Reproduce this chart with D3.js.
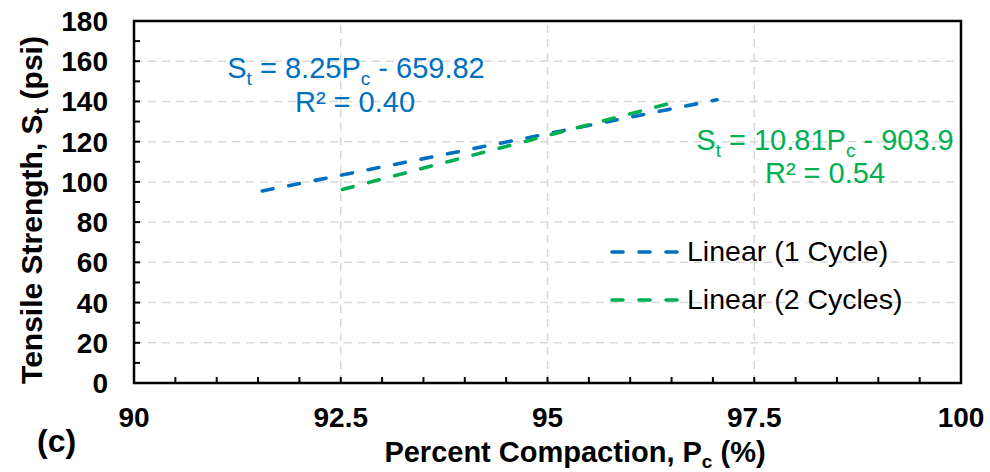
<!DOCTYPE html>
<html>
<head>
<meta charset="utf-8">
<script src="https://cdn.jsdelivr.net/npm/d3@7/dist/d3.min.js"></script>
<style>
  html, body { margin: 0; padding: 0; background: #fff; }
  svg { display: block; }
  text { font-family: "Liberation Sans", Arial, sans-serif; }
</style>
</head>
<body>
<svg id="chart" width="990" height="472"></svg>
<script>
// Linear fits of tensile strength vs. percent compaction
const seriesNames = ["Linear (1 Cycle)", "Linear (2 Cycles)"];
const seriesColors = ["#0070C0", "#00B050"];
const slopes = [8.25, 10.81];
const intercepts = [-659.82, -903.9];
const rSquared = ["0.40", "0.54"];
const xStart = [91.55, 92.52];   // fit range (data extent), %
const xEnd = [97.05, 96.62];

const xTicks = [90, 92.5, 95, 97.5, 100];
const xTickLabels = ["90", "92.5", "95", "97.5", "100"];
const yTicks = [0, 20, 40, 60, 80, 100, 120, 140, 160, 180];

const svg = d3.select("#chart");
const x = d3.scaleLinear().domain([90, 100]).range([134, 961]);
const y = d3.scaleLinear().domain([0, 180]).range([383, 21]);

// gridlines
const grid = svg.append("g").attr("stroke", "#d9d9d9").attr("stroke-width", 1.5)
  .attr("stroke-dasharray", "8 6");
grid.selectAll("line.h").data(yTicks.filter(v => v > 0 && v < 180)).join("line")
  .attr("x1", x(90)).attr("x2", x(100)).attr("y1", d => y(d)).attr("y2", d => y(d));
grid.selectAll("line.v").data(xTicks.filter(v => v > 90 && v < 100)).join("line")
  .attr("y1", y(0)).attr("y2", y(180)).attr("x1", d => x(d)).attr("x2", d => x(d));

// minor ticks, pointing inward
const xMinor = d3.range(90.5, 100, 0.5);
const yMinor = d3.range(10, 180, 10);
const ticks = svg.append("g").attr("stroke", "#000").attr("stroke-width", 2);
ticks.selectAll("line.xm").data(xMinor).join("line")
  .attr("x1", d => x(d)).attr("x2", d => x(d)).attr("y1", y(0)).attr("y2", y(0) - 6);
ticks.selectAll("line.ym").data(yMinor).join("line")
  .attr("y1", d => y(d)).attr("y2", d => y(d)).attr("x1", x(90)).attr("x2", x(90) + 6);

// plot border
svg.append("rect").attr("x", x(90)).attr("y", y(180))
  .attr("width", x(100) - x(90)).attr("height", y(0) - y(180))
  .attr("fill", "none").attr("stroke", "#000").attr("stroke-width", 2.5);

// tick labels
svg.append("g").selectAll("text").data(yTicks).join("text")
  .attr("x", 108).attr("y", d => y(d) + 10)
  .attr("text-anchor", "end").attr("font-size", 28).attr("font-weight", "bold")
  .text(d => d);
svg.append("g").selectAll("text").data(xTicks).join("text")
  .attr("x", d => x(d)).attr("y", 427)
  .attr("text-anchor", "middle").attr("font-size", 28).attr("font-weight", "bold")
  .text((d, i) => xTickLabels[i]);

// trend lines
const line = d3.line().x(d => x(d[0])).y(d => y(d[1]));
seriesNames.forEach((name, i) => {
  const pts = [xStart[i], xEnd[i]].map(v => [v, slopes[i] * v + intercepts[i]]);
  svg.append("path").datum(pts).attr("d", line)
    .attr("fill", "none").attr("stroke", seriesColors[i]).attr("stroke-width", 3.6)
    .attr("stroke-linecap", "round").attr("stroke-dasharray", "11 16");
});

// equation labels
function equation(xc, yc, i) {
  const t = svg.append("text").attr("x", xc).attr("y", yc).attr("text-anchor", "middle")
    .attr("font-size", 29).attr("fill", seriesColors[i]);
  t.append("tspan").text("S");
  t.append("tspan").attr("font-size", 19).attr("dy", 7).text("t");
  t.append("tspan").attr("dy", -7).text(" = " + slopes[i] + "P");
  t.append("tspan").attr("font-size", 19).attr("dy", 7).text("c");
  t.append("tspan").attr("dy", -7).text(" - " + Math.abs(intercepts[i]));
}
equation(356, 78, 0);
svg.append("text").attr("x", 355).attr("y", 112).attr("text-anchor", "middle")
  .attr("font-size", 29).attr("fill", seriesColors[0]).text("R² = " + rSquared[0]);
equation(825, 150, 1);
svg.append("text").attr("x", 825).attr("y", 183).attr("text-anchor", "middle")
  .attr("font-size", 29).attr("fill", seriesColors[1]).text("R² = " + rSquared[1]);

// legend
seriesNames.forEach((name, i) => {
  const ly = 252 + i * 48;
  svg.append("line").attr("x1", 612).attr("x2", 680).attr("y1", ly).attr("y2", ly)
    .attr("stroke", seriesColors[i]).attr("stroke-width", 3.6)
    .attr("stroke-linecap", "round").attr("stroke-dasharray", "11 16");
  svg.append("text").attr("x", 687).attr("y", ly + 9)
    .attr("font-size", 28.5).attr("fill", "#000").text(name);
});

// axis titles
const yt = svg.append("text").attr("transform", "translate(42,210) rotate(-90)")
  .attr("text-anchor", "middle").attr("font-size", 30).attr("font-weight", "bold");
yt.append("tspan").text("Tensile Strength, S");
yt.append("tspan").attr("font-size", 20).attr("dy", 6).text("t");
yt.append("tspan").attr("dy", -6).text(" (psi)");

const xt = svg.append("text").attr("x", 575).attr("y", 462)
  .attr("text-anchor", "middle").attr("font-size", 29).attr("font-weight", "bold");
xt.append("tspan").text("Percent Compaction, P");
xt.append("tspan").attr("font-size", 19).attr("dy", 6).text("c");
xt.append("tspan").attr("dy", -6).text(" (%)");

svg.append("text").attr("x", 37).attr("y", 452).attr("font-size", 32)
  .attr("font-weight", "bold").text("(c)");
</script>
</body>
</html>
